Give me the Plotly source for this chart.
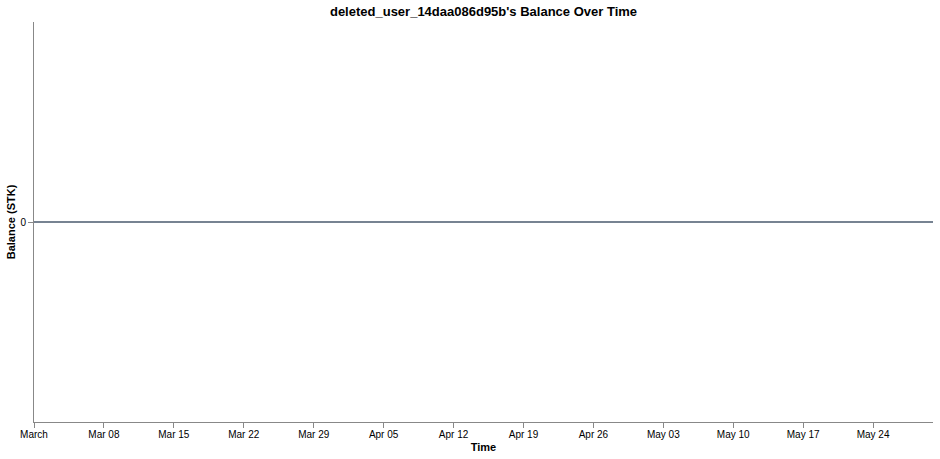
import plotly.graph_objects as go

# --- Data ---
user_name = "deleted_user_14daa086d95b"
dates = ["2026-03-01", "2026-05-30"]
balances = [0, 0]

tick_dates = ["2026-03-01", "2026-03-08", "2026-03-15", "2026-03-22", "2026-03-29",
              "2026-04-05", "2026-04-12", "2026-04-19", "2026-04-26", "2026-05-03",
              "2026-05-10", "2026-05-17", "2026-05-24"]
tick_labels = ["March", "Mar 08", "Mar 15", "Mar 22", "Mar 29", "Apr 05", "Apr 12",
               "Apr 19", "Apr 26", "May 03", "May 10", "May 17", "May 24"]

FONT = "Liberation Sans, Arial, sans-serif"
AXIS_COLOR = "#888888"

fig = go.Figure()

fig.add_trace(go.Scatter(
    x=dates, y=balances,
    mode="lines",
    line=dict(color="#778392", width=2, shape="hv"),
    showlegend=False,
))

fig.update_layout(
    width=940, height=459,
    paper_bgcolor="white",
    plot_bgcolor="white",
    margin=dict(l=34, r=7, t=22, b=37),
    font=dict(family=FONT, size=10, color="black"),
    title=dict(
        text=f"{user_name}'s Balance Over Time",
        font=dict(family=FONT, size=13, weight="bold", color="black"),
        x=0.5, xref="paper", xanchor="center",
        y=1 - 11 / 459, yref="container", yanchor="middle",
    ),
    xaxis=dict(
        type="date",
        range=[dates[0], dates[-1]],
        tickvals=tick_dates,
        ticktext=tick_labels,
        showgrid=False, zeroline=False,
        showline=True, linecolor=AXIS_COLOR, linewidth=1,
        ticks="outside", ticklen=5, tickcolor=AXIS_COLOR,
        tickfont=dict(size=10, color="black"),
        ticklabelstandoff=-2,
        automargin=False,
        title=dict(text="Time", font=dict(size=11, weight="bold"), standoff=4),
    ),
    yaxis=dict(
        range=[-1, 1],
        tickvals=[0],
        ticktext=["0"],
        showgrid=False, zeroline=False,
        showline=True, linecolor=AXIS_COLOR, linewidth=1,
        ticks="outside", ticklen=5, tickcolor=AXIS_COLOR,
        tickfont=dict(size=10, color="black"),
        automargin=False,
        title=dict(text="Balance (STK)", font=dict(size=11, weight="bold"), standoff=2),
    ),
)

# page body has an 8px default margin; drop it so the figure fills the window
fig.write_html("out.html", config={"displayModeBar": False},
               post_script="document.body.style.margin='0';")
